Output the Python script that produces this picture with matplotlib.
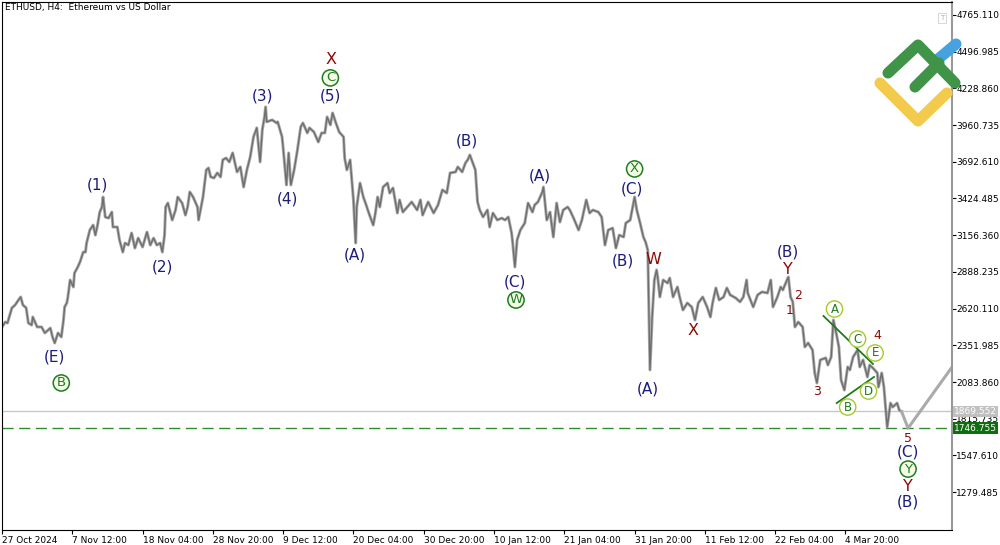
import matplotlib
matplotlib.use("Agg")
from matplotlib import pyplot as plt
from matplotlib.lines import Line2D

# H4 bar index (0 = first bar on the chart) and price at that bar
bars = [0, 3, 5, 9, 12, 15, 17, 19, 22, 24, 27, 28, 32, 36, 39, 44, 46, 48, 51, 54,
        56, 57, 59, 60, 62, 65, 66, 69, 71, 74, 76, 77, 80, 83, 85, 87, 89, 91, 92, 94,
        97, 100, 101, 105, 107, 110, 112, 115, 118, 121, 124, 128, 132, 135, 138, 141, 144, 146, 148, 149,
        151, 155, 158, 160, 164, 167, 169, 171, 174, 178, 179, 183, 186, 188, 190, 193, 196, 199, 201, 204,
        207, 210, 214, 217, 220, 223, 226, 229, 232, 235, 237, 239, 240, 241, 246, 250, 251, 255, 256, 259,
        261, 263, 266, 269, 272, 274, 278, 280, 284, 288, 291, 294, 296, 299, 301, 304, 307, 311, 312, 314,
        317, 319, 320, 322, 323, 326, 329, 331, 334, 338, 340, 342, 344, 347, 351, 353, 356, 360, 362, 365,
        369, 373, 378, 381, 383, 388, 393, 397, 401, 405, 408, 413, 415, 419, 422, 424, 426, 431, 433, 435,
        438, 442, 444, 447, 451, 455, 458, 461, 464, 465, 467, 469, 472, 476, 479, 483, 485, 488, 492, 493,
        496, 499, 502, 505, 508, 511, 515, 517, 520, 525, 528, 532, 535, 538, 543, 546, 549, 552, 556, 559,
        562, 566, 568, 572, 576, 578, 581, 584, 586, 588, 590, 592, 594, 596, 597, 599, 602, 606, 608, 611,
        615, 617, 620, 624, 628, 631, 634, 638, 642, 645, 647, 650, 653, 657, 660, 663, 668, 672, 675, 678,
        679, 684, 688, 692, 697, 700, 702, 706, 709, 711, 714, 716, 718, 720, 722, 725, 729, 731, 734, 738,
        740, 742, 745, 750, 752, 755, 757, 759, 762, 764, 767, 770, 772, 775, 779, 781, 784, 788, 790, 793,
        797, 798, 801, 803, 805, 806, 809, 811, 815, 817, 819]
closes = [2486, 2522, 2515, 2625, 2647, 2683, 2705, 2647, 2625, 2515, 2500, 2559, 2486, 2486, 2442, 2478, 2413, 2369, 2442, 2413,
          2537, 2632, 2661, 2705, 2829, 2778, 2880, 2924, 2960, 3033, 3033, 3099, 3194, 3230, 3157, 3230, 3325, 3362, 3435, 3289,
          3281, 3325, 3216, 3216, 3121, 3033, 3099, 3084, 3172, 3062, 3135, 3070, 3179, 3084, 3135, 3084, 3099, 3033, 3157, 3362,
          3391, 3267, 3340, 3435, 3391, 3303, 3362, 3472, 3435, 3362, 3267, 3435, 3633, 3647, 3582, 3574, 3611, 3582, 3706, 3720,
          3691, 3757, 3618, 3655, 3508, 3633, 3728, 3874, 3940, 3691, 3925, 4020, 4093, 3984, 3998, 3976, 3984, 3874, 3793, 3523,
          3757, 3523, 3633, 3779, 3947, 3976, 3903, 3940, 3910, 3837, 3903, 3903, 4020, 3962, 4049, 3976, 3910, 3874, 3720, 3633,
          3706, 3508, 3414, 3099, 3362, 3537, 3435, 3391, 3318, 3230, 3318, 3435, 3362, 3508, 3537, 3464, 3501, 3318, 3414, 3325,
          3362, 3399, 3340, 3414, 3303, 3399, 3318, 3377, 3487, 3464, 3611, 3618, 3655, 3618, 3684, 3706, 3742, 3633, 3399, 3340,
          3289, 3340, 3216, 3318, 3267, 3281, 3267, 3289, 3172, 3099, 2924, 3121, 3194, 3245, 3391, 3325, 3377, 3399, 3472, 3508,
          3267, 3325, 3143, 3391, 3252, 3340, 3362, 3340, 3289, 3194, 3267, 3414, 3318, 3340, 3325, 3289, 3084, 3194, 3208, 3062,
          3157, 3143, 3245, 3267, 3435, 3340, 3245, 3143, 3106, 3048, 2172, 2559, 2829, 2902, 2851, 2705, 2829, 2807, 2843, 2705,
          2778, 2705, 2610, 2661, 2632, 2537, 2661, 2705, 2632, 2559, 2661, 2771, 2683, 2705, 2771, 2720, 2698, 2669, 2705, 2829,
          2734, 2632, 2720, 2742, 2734, 2829, 2632, 2705, 2778, 2756, 2815, 2851, 2705, 2669, 2486, 2522, 2486, 2340, 2369, 2318,
          2150, 2077, 2245, 2260, 2208, 2267, 2537, 2464, 2340, 2099, 2025, 2194, 2172, 2267, 2318, 2194, 2245, 2121, 2208, 2186,
          2150, 2047, 2150, 2047, 1857, 1755, 1930, 1901, 1930, 1879, 1869.552]

# forecast path
proj_bars = [819, 825, 880]
proj_prices = [1869.552, 1746.755, 2360]

bid_price = 1869.552
target_price = 1746.755

# triangle boundaries (bar, price)
tri_upper = ([748, 793], [2566, 2216])
tri_lower = ([760, 794], [1930, 2121])

y_ticks = [1279.485 + 268.125 * k for k in range(14)]
x_ticks = [64 * k for k in range(13)]
x_labels = ['27 Oct 2024', '7 Nov 12:00', '18 Nov 04:00', '28 Nov 20:00', '9 Dec 12:00',
            '20 Dec 04:00', '30 Dec 20:00', '10 Jan 12:00', '21 Jan 04:00', '31 Jan 20:00',
            '11 Feb 12:00', '22 Feb 04:00', '4 Mar 20:00']

NAVY = '#1c1c7c'
RED = '#8b0a0a'
GREEN = '#1e7d1e'

# wave labels: (text, bar, price, kind)
labels = [
    ('(E)', 48, 2267, 'navy'), ('B', 54, 2077, 'circle'),
    ('(1)', 87, 3523, 'navy'), ('(2)', 146, 2924, 'navy'),
    ('(3)', 237, 4173, 'navy'), ('(4)', 260, 3421, 'navy'),
    ('(5)', 299, 4173, 'navy'), ('C', 299, 4305, 'circle'), ('X', 300, 4436, 'red'),
    ('(A)', 321, 3011, 'navy'), ('(B)', 423, 3844, 'navy'),
    ('(C)', 467, 2815, 'navy'), ('W', 468, 2683, 'circle'),
    ('(A)', 490, 3589, 'navy'), ('(B)', 565, 2968, 'navy'),
    ('(C)', 574, 3494, 'navy'), ('X', 576, 3640, 'circle'),
    ('W', 593, 2982, 'red'), ('(A)', 588, 2033, 'navy'), ('X', 629, 2457, 'red'),
    ('(B)', 716, 3033, 'navy'), ('Y', 716, 2902, 'red'),
    ('2', 725, 2719, 'num'), ('1', 717, 2603, 'num'), ('3', 742, 2011, 'num'),
    ('4', 797, 2420, 'num'),
    ('A', 758, 2617, 'small'), ('C', 779, 2398, 'small'), ('E', 795, 2296, 'small'),
    ('D', 789, 2018, 'small'), ('B', 770, 1901, 'small'),
    ('5', 825, 1675, 'num'), ('(C)', 825, 1572, 'navy'), ('Y', 825, 1448, 'circle'),
    ('Y', 825, 1324, 'red'), ('(B)', 825, 1207, 'navy'),
]

fig = plt.figure(figsize=(10, 5.45), dpi=100)
ax = fig.add_axes([0.002, 0.0275, 0.95, 0.969])
ax.set_xlim(0, 865)
ax.set_ylim(1003, 4860)

ax.axhline(bid_price, color='#c8c8c8', lw=1, zorder=1)
ax.axhline(target_price, color='#2e8b2e', lw=1, ls=(0, (8, 4)), zorder=1)

ax.plot(bars, closes, color='#9a9a9a', lw=2.2, zorder=2, alpha=0.8)
ax.plot(bars, closes, color='#6e6e6e', lw=1.0, zorder=2)
ax.plot(proj_bars, proj_prices, color='#aaaaaa', lw=2.2, zorder=2, solid_capstyle='round')
ax.plot(*tri_upper, color='#1f7a1f', lw=1.3, zorder=3)
ax.plot(*tri_lower, color='#1f7a1f', lw=1.3, zorder=3)

for txt, b, p, kind in labels:
    if kind == 'navy':
        ax.text(b, p, txt, color=NAVY, fontsize=11, ha='center', va='center', zorder=5)
    elif kind == 'red':
        ax.text(b, p, txt, color=RED, fontsize=11.5, ha='center', va='center', zorder=5)
    elif kind == 'num':
        ax.text(b, p, txt, color=RED, fontsize=9, ha='center', va='center', zorder=5)
    elif kind == 'circle':
        ax.text(b, p, txt, color=GREEN, fontsize=9.5, ha='center', va='center', zorder=5,
                bbox=dict(boxstyle='circle,pad=0.12', fc='#f6fbe8', ec=GREEN, lw=1.1))
    else:
        ax.text(b, p, txt, color=GREEN, fontsize=8.5, ha='center', va='center', zorder=5,
                bbox=dict(boxstyle='circle,pad=0.14', fc='white', ec='#a8c82a', lw=1.0))

ax.yaxis.tick_right()
ax.set_yticks(y_ticks)
ax.set_yticklabels(['%.3f' % v for v in y_ticks])
ax.set_xticks(x_ticks)
ax.set_xticklabels(x_labels, ha='left')
ax.tick_params(axis='both', labelsize=6.5, colors='#000000', length=3, width=0.8, pad=1)
ax.tick_params(axis='y', pad=0)
for s in ['left', 'bottom', 'top']:
    ax.spines[s].set_color('#000000')
    ax.spines[s].set_linewidth(0.8)
ax.spines['right'].set_color('#9a9a9a')
ax.spines['right'].set_linewidth(1.5)

# price tags on the right scale
ax.text(1.002, bid_price, '%.3f' % bid_price, transform=ax.get_yaxis_transform(),
        fontsize=6.5, color='white', va='center', ha='left',
        bbox=dict(boxstyle='square,pad=0.15', fc='#c0c0c0', ec='none'))
ax.text(1.002, target_price, '%.3f' % target_price, transform=ax.get_yaxis_transform(),
        fontsize=6.5, color='white', va='center', ha='left',
        bbox=dict(boxstyle='square,pad=0.15', fc='#0f6e0f', ec='none'))

fig.text(0.005, 0.987, 'ETHUSD, H4:  Ethereum vs US Dollar', fontsize=6.5, va='center', ha='left')
fig.text(0.942, 0.967, 'T', fontsize=5, color='#b0b0b0', ha='center', va='center',
         bbox=dict(boxstyle='square,pad=0.25', fc='white', ec='#d0d0d0', lw=0.6))

# logo, in figure pixels
def px(x, y):
    return x / 1000.0, 1 - y / 545.0

def stroke(pts, color):
    xs = [px(*p)[0] for p in pts]
    ys = [px(*p)[1] for p in pts]
    fig.add_artist(Line2D(xs, ys, color=color, lw=8, solid_capstyle='round',
                          solid_joinstyle='round', zorder=10))

stroke([(937, 60), (956, 44)], '#45a1df')
stroke([(880, 83), (918, 121), (947, 93)], '#f2ca4c')
stroke([(888, 73), (918, 45), (955, 83)], '#3f9448')
stroke([(915, 87), (939, 63)], '#3f9448')

fig.savefig('out.png', dpi=100)
